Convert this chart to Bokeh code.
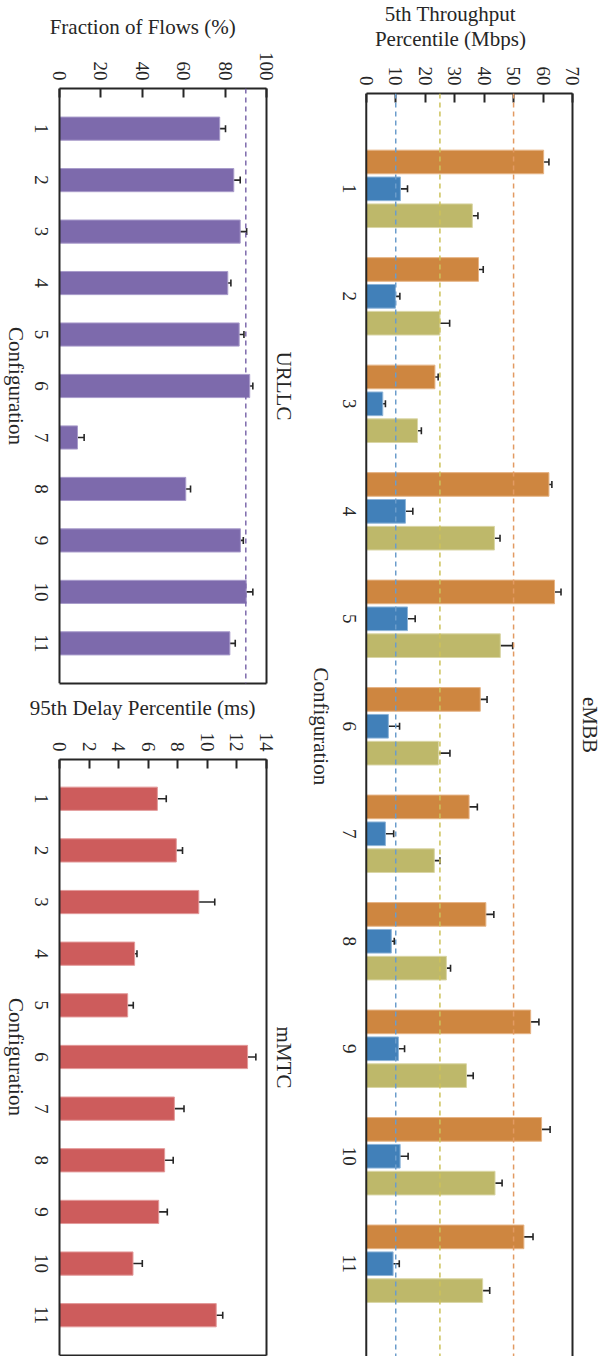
import math

from bokeh.core.properties import value
from bokeh.embed import file_html
from bokeh.layouts import column, row
from bokeh.models import (ColumnDataSource, FixedTicker, LinearAxis, Range1d,
                          Span, TeeHead, Whisker)
from bokeh.plotting import figure
from bokeh.resources import INLINE

# ---------------------------------------------------------------- data
configs = ["1", "2", "3", "4", "5", "6", "7", "8", "9", "10", "11"]

# eMBB: 5th percentile throughput (Mbps) for three traffic classes
embb_high = [60.2, 38.1, 23.3, 62.0, 63.9, 38.7, 34.9, 40.6, 55.8, 59.5, 53.5]
embb_high_err = [1.8, 1.6, 1.1, 1.0, 2.2, 2.3, 2.8, 2.7, 2.8, 2.9, 3.1]
embb_low = [11.6, 9.9, 5.6, 13.3, 14.0, 7.5, 6.5, 8.5, 10.9, 11.5, 9.1]
embb_low_err = [2.4, 1.5, 0.9, 2.5, 2.6, 3.8, 2.8, 1.0, 2.1, 2.7, 2.1]
embb_mid = [36.0, 25.0, 17.4, 43.5, 45.5, 24.5, 23.1, 27.2, 34.0, 43.7, 39.5]
embb_mid_err = [1.9, 3.3, 1.3, 1.9, 4.2, 3.9, 1.9, 1.4, 2.3, 2.4, 2.4]
embb_targets = [50, 10, 25]          # high, low, mid requirement (Mbps)

# URLLC: fraction of flows meeting the latency target (%)
urllc = [77.4, 84.2, 87.3, 81.3, 86.8, 91.9, 8.7, 61.0, 87.4, 90.2, 82.3]
urllc_err = [2.8, 3.1, 3.1, 1.5, 2.3, 1.5, 3.2, 2.3, 1.4, 3.2, 2.6]
urllc_target = 90

# mMTC: 95th percentile delay (ms)
mmtc = [6.62, 7.90, 9.42, 5.08, 4.61, 12.72, 7.77, 7.11, 6.71, 4.97, 10.60]
mmtc_err = [0.60, 0.42, 1.08, 0.16, 0.38, 0.56, 0.65, 0.58, 0.58, 0.63, 0.44]

# ---------------------------------------------------------------- style
FONT = "Liberation Serif"
INK = "#262626"
ORANGE, BLUE, OLIVE = "#CE8640", "#4180B9", "#BEB86A"
PURPLE, RED = "#7D6AAC", "#CD5C5C"
BOX = 207                            # width of each plotting box, px

positions = list(range(1, len(configs) + 1))


def style_axis(ax):
    ax.axis_line_color = INK
    ax.axis_line_width = 2
    ax.major_tick_line_color = INK
    ax.major_tick_line_width = 2
    ax.major_tick_in = 9
    ax.major_tick_out = 0
    ax.minor_tick_line_color = None


def border_axis(xmax):
    """A bare axis line, used to close the box on one side."""
    ax = LinearAxis(ticker=FixedTicker(ticks=[]), bounds=(0, xmax),
                    major_label_text_color=None)
    style_axis(ax)
    ax.major_tick_line_color = None
    return ax


def header(width, height, left_px, lines):
    """Value-axis title, centred over the plotting box.

    Each line is (text, distance of its middle from the top, px).
    """
    h = figure(width=width, height=height,
               x_range=Range1d(0, width), y_range=Range1d(0, height),
               x_axis_location=None, y_axis_location=None,
               output_backend="svg", toolbar_location=None,
               min_border=0)
    h.grid.visible = False
    h.outline_line_color = None
    h.border_fill_color = "white"
    h.background_fill_color = "white"
    h.text(x=[left_px + BOX / 2] * len(lines),
           y=[height - m for _, m in lines], text=[t for t, _ in lines],
           text_align="center", text_baseline="middle",
           text_font=value(FONT), text_font_size=value("21px"),
           text_color=INK)
    return h


def panel(title, xmax, xticks, width, height, y_range, left_px,
          borders, tick_dx, label_dx, closed_bottom=True):
    right, top, bottom = borders
    # the frame also holds the name column left of the box at x = 0
    x_lo = -left_px * xmax / BOX
    p = figure(width=width, height=height,
               x_range=Range1d(x_lo, xmax), y_range=y_range,
               x_axis_location="above", y_axis_location=None,
               title=title, title_location="right",
               output_backend="svg", toolbar_location=None,
               min_border_left=0, min_border_right=right,
               min_border_top=top, min_border_bottom=bottom)
    p.grid.visible = False
    p.outline_line_color = None
    p.background_fill_color = "white"
    p.border_fill_color = "white"

    p.title.text_font = FONT
    p.title.text_font_size = "21px"
    p.title.text_font_style = "normal"
    p.title.text_color = INK
    p.title.align = "center"
    p.title.standoff = 10

    xa = p.xaxis[0]
    style_axis(xa)
    xa.bounds = (0, xmax)
    xa.ticker = FixedTicker(ticks=xticks)
    xa.major_label_orientation = -math.pi / 2
    xa.major_label_text_font = FONT
    xa.major_label_text_font_size = "19px"
    xa.major_label_text_color = INK
    xa.major_label_standoff = 8

    # box sides: left rule at x = 0, right and bottom as bare axes
    p.add_layout(Span(location=0, dimension="height", line_color=INK,
                      line_width=2))
    p.add_layout(border_axis(xmax), "right")
    if closed_bottom:
        p.add_layout(border_axis(xmax), "below")

    # inward configuration ticks
    p.ray(x=0, y=positions, length=9, length_units="screen", angle=0,
          line_color=INK, line_width=2)

    # configuration names and axis title, written top-to-bottom
    names = ColumnDataSource(dict(y=positions, t=configs))
    p.text(x=0, y="y", text="t", source=names, x_offset=tick_dx,
           angle=-math.pi / 2, text_align="center", text_baseline="middle",
           text_font=value(FONT), text_font_size=value("19px"),
           text_color=INK)
    p.text(x=[0], y=[6.0], text=["Configuration"], x_offset=label_dx,
           angle=-math.pi / 2, text_align="center", text_baseline="middle",
           text_font=value(FONT), text_font_size=value("21px"),
           text_color=INK)
    return p


def bars(p, ys, vals, errs, color, edge, h):
    src = ColumnDataSource(dict(
        y=ys, v=vals,
        lo=[v - e for v, e in zip(vals, errs)],
        hi=[v + e for v, e in zip(vals, errs)]))
    p.hbar(y="y", left=0, right="v", height=h, source=src,
           fill_color=color, line_color=edge, line_width=1)
    head = dict(size=7, line_color=INK, line_width=1.6)
    p.add_layout(Whisker(source=src, base="y", lower="lo", upper="hi",
                         dimension="width", line_color=INK, line_width=1.6,
                         lower_head=TeeHead(**head),
                         upper_head=TeeHead(**head)))


def target(p, x, color):
    p.add_layout(Span(location=x, dimension="height", line_color=color,
                      line_width=1.5, line_dash="5 4"))


# ---------------------------------------------------------------- URLLC
h_u = header(304, 40, 59, [("Fraction of Flows (%)", 26)])
p_u = panel("URLLC", 100, [0, 20, 40, 60, 80, 100],
            304, 650, Range1d(11.78, 0.22), 59, (38, 48, 7), -18, -44)
bars(p_u, positions, urllc, urllc_err, PURPLE, "#A99CCB", 0.45)
target(p_u, urllc_target, "#7D6AAC")

# ---------------------------------------------------------------- mMTC
h_m = header(304, 32, 59, [("95th Delay Percentile (ms)", 17)])
p_m = panel("mMTC", 14, list(range(0, 15, 2)),
            304, 634, Range1d(11.78, 0.24), 59, (38, 37, 1), -18, -44)
bars(p_m, positions, mmtc, mmtc_err, RED, "#E39A9A", 0.45)

# ---------------------------------------------------------------- eMBB
h_e = header(304, 50, 62, [("5th Throughput", 13.5),
                           ("Percentile (Mbps)", 38)])
p_e = panel("eMBB", 70, list(range(0, 71, 10)), 304, 1306,
            Range1d(11.863, 0.113), 62, (35, 43, 0), -17, -45,
            closed_bottom=False)
bars(p_e, [y - 0.25 for y in positions], embb_high, embb_high_err,
     ORANGE, "#E6B485", 0.22)
bars(p_e, positions, embb_low, embb_low_err, BLUE, "#8DB4D8", 0.22)
bars(p_e, [y + 0.25 for y in positions], embb_mid, embb_mid_err,
     OLIVE, "#DAD6A6", 0.22)
for x, c in zip(embb_targets, ["#E29A62", "#6A9CCB", "#CDC25A"]):
    target(p_e, x, c)

layout = row(column(h_u, p_u, h_m, p_m), column(h_e, p_e))

with open("out.html", "w") as f:
    f.write(file_html(layout, INLINE))
